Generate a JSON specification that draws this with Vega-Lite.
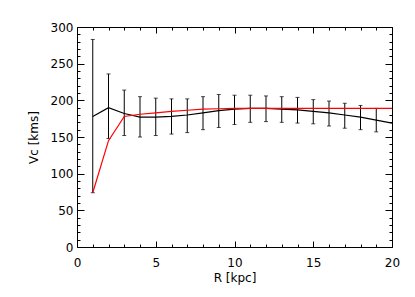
{
  "$schema": "https://vega.github.io/schema/vega-lite/v6.json",
  "width": 315,
  "height": 220,
  "autosize": "none",
  "padding": {"left": 77, "top": 27, "right": 23, "bottom": 50},
  "background": "white",
  "config": {
    "view": {"stroke": null},
    "axis": {
      "domainColor": "black",
      "domainWidth": 1,
      "tickColor": "black",
      "tickWidth": 1,
      "grid": false,
      "labelFont": "DejaVu Sans",
      "labelFontSize": 12,
      "labelColor": "black",
      "titleFont": "DejaVu Sans",
      "titleFontSize": 12,
      "titleFontWeight": "normal",
      "titleColor": "black"
    }
  },
  "data": {
    "values": [
      {"R": 1, "v": 178, "lo": 74, "hi": 283, "red": 74},
      {"R": 2, "v": 190, "lo": 148, "hi": 236, "red": 145},
      {"R": 3, "v": 182, "lo": 152, "hi": 214, "red": 178},
      {"R": 4, "v": 177, "lo": 150, "hi": 205, "red": 181},
      {"R": 5, "v": 177, "lo": 152, "hi": 203, "red": 183},
      {"R": 6, "v": 178, "lo": 154, "hi": 202, "red": 185},
      {"R": 7, "v": 180, "lo": 156, "hi": 202, "red": 186.5},
      {"R": 8, "v": 183, "lo": 160, "hi": 205, "red": 188},
      {"R": 9, "v": 186, "lo": 163, "hi": 208, "red": 188.5},
      {"R": 10, "v": 188, "lo": 167, "hi": 207, "red": 189},
      {"R": 11, "v": 189, "lo": 170, "hi": 207, "red": 189},
      {"R": 12, "v": 189, "lo": 171, "hi": 206, "red": 189},
      {"R": 13, "v": 188, "lo": 170, "hi": 205, "red": 189},
      {"R": 14, "v": 187, "lo": 169, "hi": 204, "red": 189},
      {"R": 15, "v": 185, "lo": 168, "hi": 201, "red": 189},
      {"R": 16, "v": 183, "lo": 165, "hi": 199, "red": 189},
      {"R": 17, "v": 180, "lo": 162, "hi": 196, "red": 189},
      {"R": 18, "v": 177, "lo": 160, "hi": 193, "red": 189},
      {"R": 19, "v": 173, "lo": 157, "hi": 189, "red": 189},
      {"R": 20, "v": 169, "lo": null, "hi": null, "red": 189}
    ]
  },
  "layer": [
    {
      "mark": {"type": "rule", "color": "black", "strokeWidth": 1},
      "encoding": {
        "x": {
          "field": "R", "type": "quantitative",
          "scale": {"domain": [0, 20], "nice": false, "zero": false},
          "axis": {
            "orient": "bottom",
            "title": "R [kpc]",
            "values": [0,1,2,3,4,5,6,7,8,9,10,11,12,13,14,15,16,17,18,19,20],
            "labelExpr": "datum.value % 5 === 0 ? datum.label : ''",
            "tickSize": {"condition": {"test": "datum.value % 5 === 0", "value": -6}, "value": -3},
            "labelPadding": 16,
            "labelFlush": false,
            "titlePadding": 4
          }
        },
        "y": {
          "field": "lo", "type": "quantitative",
          "scale": {"domain": [0, 300], "nice": false, "zero": false},
          "axis": {
            "orient": "left",
            "title": "Vc [kms]",
            "values": [0,10,20,30,40,50,60,70,80,90,100,110,120,130,140,150,160,170,180,190,200,210,220,230,240,250,260,270,280,290,300],
            "labelExpr": "datum.value % 50 === 0 ? datum.label : ''",
            "tickSize": {"condition": {"test": "datum.value % 50 === 0", "value": -7}, "value": -3},
            "labelPadding": 11,
            "labelFlush": false,
            "titlePadding": 10
          }
        },
        "y2": {"field": "hi"}
      }
    },
    {
      "mark": {"type": "tick", "orient": "horizontal", "color": "black", "size": 4, "thickness": 1},
      "encoding": {
        "x": {"field": "R", "type": "quantitative", "axis": null},
        "y": {"field": "hi", "type": "quantitative", "axis": null}
      }
    },
    {
      "mark": {"type": "tick", "orient": "horizontal", "color": "black", "size": 4, "thickness": 1},
      "encoding": {
        "x": {"field": "R", "type": "quantitative", "axis": null},
        "y": {"field": "lo", "type": "quantitative", "axis": null}
      }
    },
    {
      "mark": {"type": "line", "color": "black", "strokeWidth": 1.2},
      "encoding": {
        "x": {
          "field": "R", "type": "quantitative",
          "axis": {
            "orient": "top",
            "title": null,
            "values": [0,1,2,3,4,5,6,7,8,9,10,11,12,13,14,15,16,17,18,19,20],
            "labels": false,
            "tickSize": {"condition": {"test": "datum.value % 5 === 0", "value": -6}, "value": -3}
          }
        },
        "y": {
          "field": "v", "type": "quantitative",
          "axis": {
            "orient": "right",
            "title": null,
            "values": [0,10,20,30,40,50,60,70,80,90,100,110,120,130,140,150,160,170,180,190,200,210,220,230,240,250,260,270,280,290,300],
            "labels": false,
            "tickSize": {"condition": {"test": "datum.value % 50 === 0", "value": -7}, "value": -3}
          }
        }
      }
    },
    {
      "mark": {"type": "line", "color": "#ff0000", "strokeWidth": 1.2},
      "encoding": {
        "x": {"field": "R", "type": "quantitative", "axis": null},
        "y": {"field": "red", "type": "quantitative", "axis": null}
      }
    }
  ],
  "resolve": {"axis": {"x": "independent", "y": "independent"}}
}
